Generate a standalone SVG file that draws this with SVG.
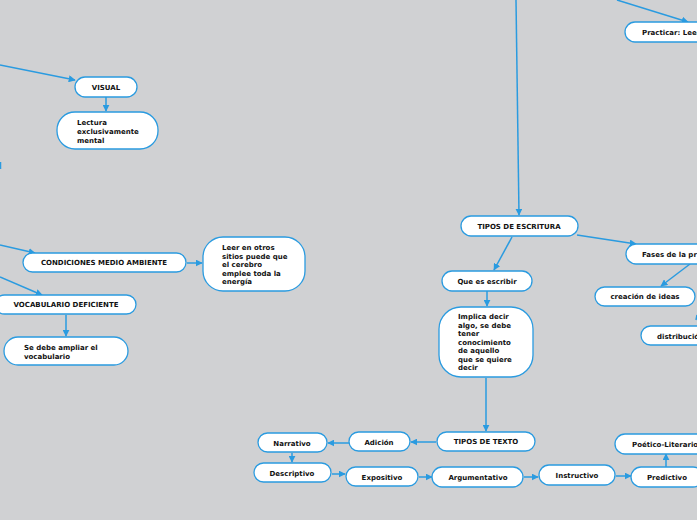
<svg xmlns="http://www.w3.org/2000/svg" width="697" height="520" viewBox="0 0 697 520">
<defs>
<marker id="ah" viewBox="0 0 10 10" refX="9" refY="5" markerWidth="7" markerHeight="7" markerUnits="userSpaceOnUse" orient="auto">
<path d="M0,0 L10,5 L0,10 z" fill="#2a9be0"/>
</marker>
<style>
.n{fill:#fff;stroke:#2a9be0;stroke-width:1.3}
.t{font-family:"DejaVu Sans",Verdana,sans-serif;font-weight:bold;font-size:7px;fill:#111}
.c{text-anchor:middle}
.l{fill:none;stroke:#2a9be0;stroke-width:1.5}
.a{marker-end:url(#ah)}
</style>
</defs>
<rect width="697" height="520" fill="#d0d1d3"/>
<g id="connectors">
<line class="l a" x1="0" y1="65" x2="75" y2="80"/>
<line class="l a" x1="106" y1="97" x2="106" y2="111"/>
<line class="l a" x1="0" y1="245" x2="35" y2="253"/>
<line class="l a" x1="187" y1="263" x2="202" y2="263"/>
<line class="l a" x1="0" y1="277" x2="42" y2="295"/>
<line class="l a" x1="66" y1="315" x2="66" y2="336"/>
<line class="l a" x1="516" y1="0" x2="519" y2="215"/>
<line class="l a" x1="617" y1="0" x2="688" y2="22"/>
<line class="l a" x1="577" y1="235" x2="636" y2="244"/>
<line class="l a" x1="512" y1="237" x2="494" y2="270"/>
<line class="l a" x1="487" y1="291" x2="487" y2="306"/>
<line class="l a" x1="690" y1="264" x2="661" y2="286"/>
<line class="l" x1="697" y1="315" x2="696" y2="320"/>
<line class="l a" x1="486" y1="378" x2="486" y2="431"/>
<line class="l a" x1="436" y1="442" x2="411" y2="442"/>
<line class="l a" x1="349" y1="443" x2="328" y2="443"/>
<line class="l a" x1="292" y1="453" x2="292" y2="462"/>
<line class="l a" x1="332" y1="474" x2="345" y2="474"/>
<line class="l a" x1="419" y1="477" x2="432" y2="477"/>
<line class="l a" x1="524" y1="477" x2="538" y2="477"/>
<line class="l a" x1="616" y1="476" x2="631" y2="476"/>
<line class="l a" x1="666" y1="467" x2="666" y2="454"/>
</g>
<g id="edge-fragment"><path d="M0.5,162 V169" fill="none" stroke="#2a9be0" stroke-width="1.5"/></g>
<g id="visual"><rect class="n" x="75" y="77" width="62" height="20" rx="10"/><text class="t c" x="106" y="90">VISUAL</text></g>
<g id="lectura"><rect class="n" x="57" y="112" width="101" height="37" rx="18"/><text class="t" x="77"><tspan x="77" y="125">Lectura</tspan><tspan x="77" y="134">exclusivamente</tspan><tspan x="77" y="143">mental</tspan></text></g>
<g id="condiciones"><rect class="n" x="23" y="253" width="163" height="19" rx="9.5"/><text class="t c" x="104" y="265">CONDICIONES MEDIO AMBIENTE</text></g>
<g id="leer"><rect class="n" x="203" y="237" width="102" height="54" rx="20"/><text class="t"><tspan x="222" y="250">Leer en otros</tspan><tspan x="222" y="258.5">sitios puede que</tspan><tspan x="222" y="267">el cerebro</tspan><tspan x="222" y="275.5">emplee toda la</tspan><tspan x="222" y="284">energía</tspan></text></g>
<g id="vocabulario"><rect class="n" x="-5" y="295" width="141" height="19" rx="9.5"/><text class="t c" x="66" y="307">VOCABULARIO DEFICIENTE</text></g>
<g id="ampliar"><rect class="n" x="4" y="337" width="124" height="28" rx="14"/><text class="t"><tspan x="24" y="350">Se debe ampliar el</tspan><tspan x="24" y="358.5">vocabulario</tspan></text></g>
<g id="practicar"><rect class="n" x="625" y="22" width="100" height="20" rx="10"/><text class="t" x="642" y="35">Practicar: Leer</text></g>
<g id="tipos-escritura"><rect class="n" x="461" y="216" width="117" height="20" rx="10"/><text class="t c" x="519" y="229">TIPOS DE ESCRITURA</text></g>
<g id="fases"><rect class="n" x="626" y="244" width="100" height="20" rx="10"/><text class="t" x="642" y="257">Fases de la pr</text></g>
<g id="que-es"><rect class="n" x="442" y="271" width="90" height="20" rx="10"/><text class="t c" x="487" y="284">Que es escribir</text></g>
<g id="implica"><rect class="n" x="439" y="307" width="94" height="70" rx="22"/><text class="t"><tspan x="458" y="319">Implica decir</tspan><tspan x="458" y="327.5">algo, se debe</tspan><tspan x="458" y="336">tener</tspan><tspan x="458" y="344.5">conocimiento</tspan><tspan x="458" y="353">de aquello</tspan><tspan x="458" y="361.5">que se quiere</tspan><tspan x="458" y="370">decir</tspan></text></g>
<g id="creacion"><rect class="n" x="595" y="287" width="100" height="19" rx="9.5"/><text class="t c" x="645" y="299">creación de ideas</text></g>
<g id="distribucion"><rect class="n" x="641" y="326" width="90" height="19" rx="9.5"/><text class="t" x="657" y="339">distribució</text></g>
<g id="tipos-texto"><rect class="n" x="437" y="432" width="98" height="19" rx="9.5"/><text class="t c" x="486" y="444">TIPOS DE TEXTO</text></g>
<g id="adicion"><rect class="n" x="349" y="432" width="61" height="19" rx="9.5"/><text class="t c" x="379" y="445">Adición</text></g>
<g id="narrativo"><rect class="n" x="258" y="433" width="69" height="19" rx="9.5"/><text class="t c" x="292" y="446">Narrativo</text></g>
<g id="descriptivo"><rect class="n" x="254" y="463" width="77" height="19" rx="9.5"/><text class="t c" x="292" y="476">Descriptivo</text></g>
<g id="expositivo"><rect class="n" x="346" y="467" width="72" height="19" rx="9.5"/><text class="t c" x="382" y="480">Expositivo</text></g>
<g id="argumentativo"><rect class="n" x="432" y="467" width="91" height="20" rx="10"/><text class="t c" x="478" y="480">Argumentativo</text></g>
<g id="instructivo"><rect class="n" x="539" y="465" width="76" height="20" rx="10"/><text class="t c" x="577" y="478">Instructivo</text></g>
<g id="predictivo"><rect class="n" x="631" y="467" width="72" height="20" rx="10"/><text class="t c" x="667" y="480">Predictivo</text></g>
<g id="poetico"><rect class="n" x="615" y="434" width="100" height="20" rx="10"/><text class="t" x="632" y="447">Poético-Literario</text></g>
</svg>
